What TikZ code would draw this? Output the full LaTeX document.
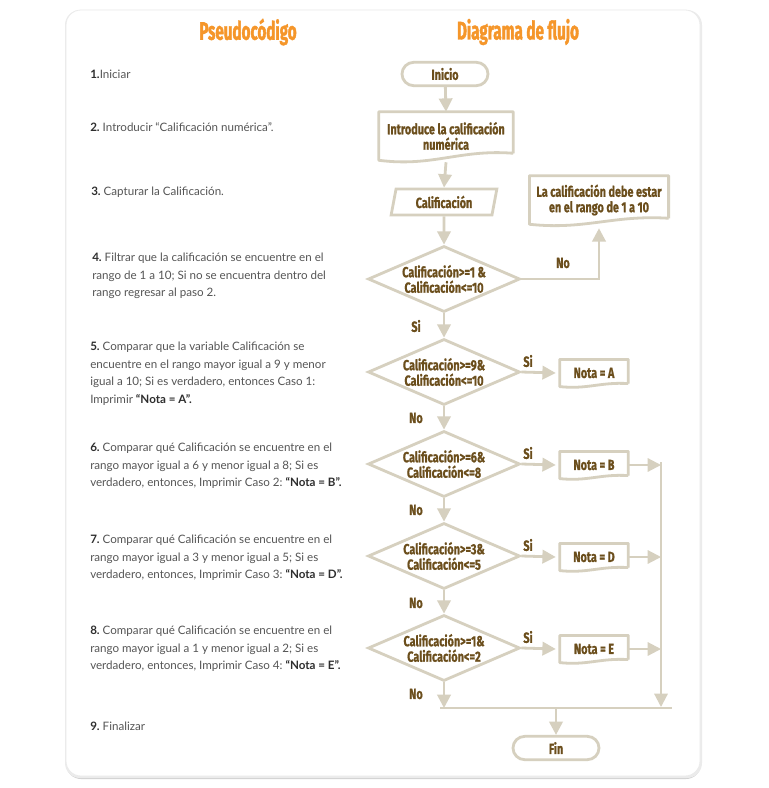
\documentclass[tikz,border=0pt]{standalone}
\usepackage{fontspec}
\setmainfont{Lato}
\newfontfamily\headfont{Fira Sans}[FakeStretch=0.6,FakeBold=1.5]
\newfontfamily\flowfont{Fira Sans}[FakeStretch=0.74,FakeBold=0.8]
\usetikzlibrary{arrows.meta,shapes.geometric,shapes.misc,calc}
\definecolor{lc}{HTML}{D6D0BF}
\definecolor{fc}{HTML}{6B4E1C}
\definecolor{hc}{HTML}{F5962A}
\definecolor{tc}{HTML}{555555}
\definecolor{nc}{HTML}{2E2E2E}
\frenchspacing
\tikzset{
  ln/.style={draw=lc,line width=2.1pt},
  arr/.style={draw=lc,line width=2.1pt,-{Triangle[length=10pt,width=10pt]}},
  ftxt/.style={font=\flowfont\bfseries\fontsize{11}{11.6}\selectfont,text=fc,align=center},
  term/.style={rounded rectangle,ln,ftxt,minimum width=64.5pt,minimum height=17.5pt,inner sep=0pt},
  diam/.style={diamond,ln,minimum width=114pt,minimum height=49.5pt,inner sep=0pt},
  docnode/.style={ftxt,inner sep=0pt},
  para/.style={trapezium,trapezium left angle=77,trapezium right angle=103,trapezium stretches=true,ln,ftxt,minimum width=79.5pt,minimum height=19.5pt,inner sep=0pt},
  lbl/.style={ftxt,inner sep=0pt},
  steptext/.style={anchor=north west,inner sep=0pt,align=left,font=\frenchspacing\fontsize{8.7}{13.1}\selectfont,text=tc},
  heading/.style={font=\headfont\bfseries\fontsize{19}{21}\selectfont,text=hc}
}
\newcommand\docpath[2]{%
  \draw[ln,line join=round] ($(#1.south east)+(0,-#2)$) -- (#1.north east) -- (#1.north west) -- (#1.south west)
   .. controls ($(#1.south west)!0.4!(#1.south east)+(0,#2)$) and ($(#1.south west)!0.6!(#1.south east)+(0,-1.6*#2)$) .. ($(#1.south east)+(0,-#2)$);}
\newcommand\nb[1]{{\bfseries\color{nc}#1}}
\begin{document}
\begin{tikzpicture}[x=0.75pt,y=-0.75pt]
\useasboundingbox (0,0) rectangle (768,788);
% card
\fill[black!18,rounded corners=11.25pt] (66,12) rectangle (701,779);
\fill[black!8,rounded corners=11.25pt] (65,10) rectangle (702,778);
\draw[black!8,fill=white,line width=0.6pt,rounded corners=11.25pt] (66,10) rectangle (700,776);
% headings
\node[heading] (h1) at (248,32) {Pseudocódigo};
\node[heading] (h2) at (518,32) {Diagrama de flujo};
% steps
\node[steptext] (s1) at (90,70) {\nb{1.}Iniciar};
\node[steptext] (s2) at (90,122) {\nb{2.} Introducir “Calificación numérica”.};
\node[steptext] (s3) at (91,187) {\nb{3.} Capturar la Calificación.};
\node[steptext] (s4) at (92,253) {\nb{4.} Filtrar que la calificación se encuentre en el\\rango de 1 a 10; Si no se encuentra dentro del\\rango regresar al paso 2.};
\node[steptext] (s5) at (90,342) {\nb{5.} Comparar que la variable Calificación se\\encuentre en el rango mayor igual a 9 y menor\\igual a 10; Si es verdadero, entonces Caso 1:\\Imprimir \nb{“Nota = A”.}};
\node[steptext] (s6) at (90,443) {\nb{6.} Comparar qué Calificación se encuentre en el\\rango mayor igual a 6 y menor igual a 8; Si es\\verdadero, entonces, Imprimir Caso 2: \nb{“Nota = B”.}};
\node[steptext] (s7) at (90,535) {\nb{7.} Comparar qué Calificación se encuentre en el\\rango mayor igual a 3 y menor igual a 5; Si es\\verdadero, entonces, Imprimir Caso 3: \nb{“Nota = D”.}};
\node[steptext] (s8) at (90,626) {\nb{8.} Comparar qué Calificación se encuentre en el\\rango mayor igual a 1 y menor igual a 2; Si es\\verdadero, entonces, Imprimir Caso 4: \nb{“Nota = E”.}};
\node[steptext] (s9) at (90,722) {\nb{9.} Finalizar};
% flowchart nodes
\node[term] (ini) at (445,74) {Inicio};
\node[docnode,minimum width=100.5pt,minimum height=36pt] (intro) at (446,136) {Introduce la calificación\\numérica};
\docpath{intro}{7}
\node[para] (cal) at (444,202) {Calificación};
\node[docnode,minimum width=104pt,minimum height=36pt] (msg) at (599,200) {La calificación debe estar\\en el rango de 1 a 10};
\docpath{msg}{6}
\node[diam] (d1) at (444,279) {};
\node[ftxt] (d1t) at (d1) {Calificación>=1 \&\\Calificación<=10};
\node[diam] (d2) at (444,372) {};
\node[ftxt] (d2t) at (d2) {Calificación>=9\&\\Calificación<=10};
\node[diam] (d3) at (444,464) {};
\node[ftxt] (d3t) at (d3) {Calificación>=6\&\\Calificación<=8};
\node[diam] (d4) at (444,556) {};
\node[ftxt] (d4t) at (d4) {Calificación>=3\&\\Calificación<=5};
\node[diam] (d5) at (444,648) {};
\node[ftxt] (d5t) at (d5) {Calificación>=1\&\\Calificación<=2};
\node[docnode,minimum width=51pt,minimum height=20pt] (na) at (594,373) {Nota = A};
\docpath{na}{3}
\node[docnode,minimum width=51pt,minimum height=20pt] (nbx) at (594,465) {Nota = B};
\docpath{nbx}{3}
\node[docnode,minimum width=51pt,minimum height=20pt] (nd) at (594,557) {Nota = D};
\docpath{nd}{3}
\node[docnode,minimum width=51pt,minimum height=20pt] (ne) at (594,649) {Nota = E};
\docpath{ne}{3}
\node[term] (fin) at (556,748) {Fin};
% helper coordinates
\coordinate (rtop) at (661,462);
\coordinate (rbot) at (661,707);
\coordinate (hl) at (440,708);
\coordinate (hr) at (672,708);
\coordinate (hm) at (556,708);
% connectors
\draw[arr] (ini) -- (intro.north);
\draw[arr] ($(intro.south)+(0,2)$) -- (cal.north);
\draw[arr] (cal.south) -- (d1.north);
\draw[arr] (d1.east) -| ($(msg.south)+(0,4)$);
\draw[arr] (d1.south) -- (d2.north);
\draw[arr] (d2.south) -- (d3.north);
\draw[arr] (d3.south) -- (d4.north);
\draw[arr] (d4.south) -- (d5.north);
\draw[arr] (d5.south) -- (d5.south |- hl);
\draw[arr] (d2.east) -- ($(na.west)+(-4,0)$);
\draw[arr] (d3.east) -- ($(nbx.west)+(-4,0)$);
\draw[arr] (d4.east) -- ($(nd.west)+(-4,0)$);
\draw[arr] (d5.east) -- ($(ne.west)+(-4,0)$);
\draw[arr,line width=1.6pt] (nbx.east) -- (nbx.east -| rtop);
\draw[arr,line width=1.6pt] (nd.east) -- (nd.east -| rtop);
\draw[arr,line width=1.6pt] (ne.east) -- (ne.east -| rtop);
\draw[arr,line width=1.6pt] (rtop) -- (rbot);
\draw[ln,line width=1.8pt] (hl) -- (hr);
\draw[arr] (hm) -- (fin.north);
% labels
\node[lbl] (l1) at (563,263) {No};
\node[lbl] (l2) at (416,326) {Si};
\node[lbl] (l3) at (528,361) {Si};
\node[lbl] (l4) at (416,418) {No};
\node[lbl] (l5) at (528,453) {Si};
\node[lbl] (l6) at (416,510) {No};
\node[lbl] (l7) at (528,545) {Si};
\node[lbl] (l8) at (416,603) {No};
\node[lbl] (l9) at (528,637) {Si};
\node[lbl] (l10) at (416,694) {No};
\end{tikzpicture}
\end{document}
